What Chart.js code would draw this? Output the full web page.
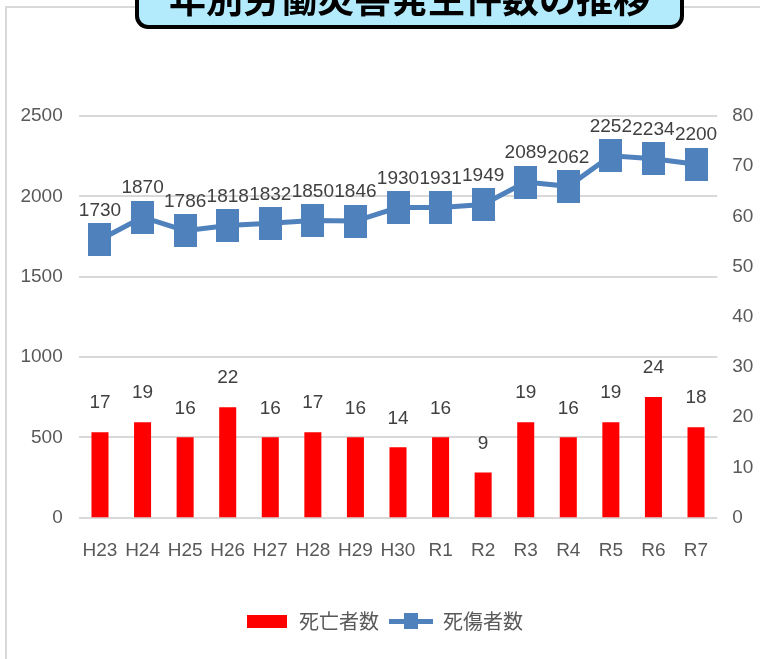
<!DOCTYPE html>
<html lang="ja">
<head>
<meta charset="utf-8">
<title>年別労働災害発生件数の推移</title>
<script src="https://cdn.jsdelivr.net/npm/chart.js@4.4.0/dist/chart.umd.min.js"></script>
<style>
  html, body { margin: 0; padding: 0; background: #fff; }
  #wrap { position: relative; width: 760px; height: 659px; overflow: hidden; }
  #frame {
    position: absolute; left: 5px; top: 6px; right: -10px; bottom: -10px;
    border-left: 2px solid #d9d9d9; border-top: 2px solid #d9d9d9;
  }
  #title {
    position: absolute; left: 135px; top: -30px; width: 541px; height: 51px;
    background: #b4ebfc; border: 4px solid #000; border-radius: 13px;
    font-family: "Noto Sans CJK JP", sans-serif; font-weight: bold; font-size: 37px;
    line-height: 37px; text-align: center; color: #000; z-index: 2;
  }
  #title span { position: relative; top: 5px; }
  #chart { position: absolute; left: 0; top: 0; }
</style>
</head>
<body>
<div id="wrap">
  <div id="frame"></div>
  <canvas id="chart" width="760" height="659"></canvas>
  <div id="title"><span>年別労働災害発生件数の推移</span></div>
</div>
<script>
// -------------------------------
// データ
// -------------------------------
const years = ['H23', 'H24', 'H25', 'H26', 'H27', 'H28', 'H29', 'H30', 'R1', 'R2', 'R3', 'R4', 'R5', 'R6', 'R7'];
const deaths = [17, 19, 16, 22, 16, 17, 16, 14, 16, 9, 19, 16, 19, 24, 18];          // 死亡者数 (右軸)
const casualties = [1730, 1870, 1786, 1818, 1832, 1850, 1846, 1930, 1931, 1949, 2089, 2062, 2252, 2234, 2200]; // 死傷者数 (左軸)
const leftAxis = { max: 2500, step: 500 };
const rightAxis = { max: 80, step: 10 };

const NUM_FONT = "'Liberation Sans', Arial, sans-serif";
const NUM_SIZE = 19;
const BLUE = '#4f81bd';
const RED = '#ff0000';

// マーカー画像 (縦長の四角)
function makeIcon(w, h, draw) {
    const c = document.createElement('canvas');
    c.width = w; c.height = h;
    draw(c.getContext('2d'), w, h);
    return c;
}
const pointIcon = makeIcon(23, 33, (g, w, h) => { g.fillStyle = BLUE; g.fillRect(0, 0, w, h); });
const legendBar = makeIcon(40, 13, (g, w, h) => { g.fillStyle = RED; g.fillRect(0, 0, w, h); });
const legendLine = makeIcon(44, 16, (g, w, h) => {
    g.fillStyle = BLUE;
    g.fillRect(0, 6, w, 5);
    g.fillRect(15, 0, 14, h);
});
const legendIcons = [legendBar, legendLine];

// -------------------------------
// データラベル
// -------------------------------
const valueLabels = {
    id: 'valueLabels',
    afterDatasetsDraw(chart) {
        const ctx = chart.ctx;
        ctx.save();
        ctx.font = NUM_SIZE + 'px ' + NUM_FONT;
        ctx.fillStyle = '#404040';
        ctx.textAlign = 'center';
        ctx.textBaseline = 'middle';
        chart.data.datasets.forEach((ds, i) => {
            chart.getDatasetMeta(i).data.forEach((el, j) => {
                ctx.fillText(String(ds.data[j]), el.x, el.y - 29);
            });
        });
        ctx.restore();
    }
};

const tickFont = { family: NUM_FONT, size: NUM_SIZE };
const plain = v => String(v);

new Chart(document.getElementById('chart'), {
    data: {
        labels: years,
        datasets: [{
            type: 'bar',
            label: '死亡者数',
            data: deaths,
            yAxisID: 'y1',
            backgroundColor: RED,
            barPercentage: 0.4,
            categoryPercentage: 1
        }, {
            type: 'line',
            label: '死傷者数',
            data: casualties,
            yAxisID: 'y',
            borderColor: BLUE,
            borderWidth: 5,
            tension: 0,
            pointStyle: pointIcon,
            pointRadius: 12,
            pointHoverRadius: 12
        }]
    },
    options: {
        responsive: false,
        animation: false,
        layout: { padding: { left: 8, right: 0, top: 116, bottom: 18 } },
        plugins: {
            tooltip: { enabled: false },
            legend: {
                position: 'bottom',
                labels: {
                    usePointStyle: true,
                    pointStyleWidth: 44,
                    padding: 10,
                    color: '#595959',
                    font: { family: "'Noto Sans CJK JP', sans-serif", size: 20 },
                    generateLabels: chart => chart.data.datasets.map((ds, i) => ({
                        text: ds.label,
                        pointStyle: legendIcons[i],
                        fontColor: '#595959',
                        fillStyle: 'transparent',
                        strokeStyle: 'transparent',
                        lineWidth: 0,
                        hidden: false,
                        datasetIndex: i
                    }))
                }
            }
        },
        scales: {
            x: {
                grid: { display: false, drawTicks: false },
                border: { display: false },
                ticks: { padding: 22, maxRotation: 0, autoSkip: false, color: '#595959', font: tickFont },
                afterFit: s => { s.height = 83.4; }
            },
            y: {
                position: 'left',
                min: 0,
                max: leftAxis.max,
                ticks: { stepSize: leftAxis.step, padding: 16, color: '#595959', font: tickFont, callback: plain },
                grid: { color: '#d9d9d9', lineWidth: 2, drawTicks: false },
                border: { display: false },
                afterFit: s => { s.width = 70.7; }
            },
            y1: {
                position: 'right',
                min: 0,
                max: rightAxis.max,
                ticks: { stepSize: rightAxis.step, padding: 15, color: '#595959', font: tickFont, callback: plain },
                grid: { display: false, drawTicks: false },
                border: { display: false },
                afterFit: s => { s.width = 42.7; }
            }
        }
    },
    plugins: [valueLabels]
});
</script>
</body>
</html>
